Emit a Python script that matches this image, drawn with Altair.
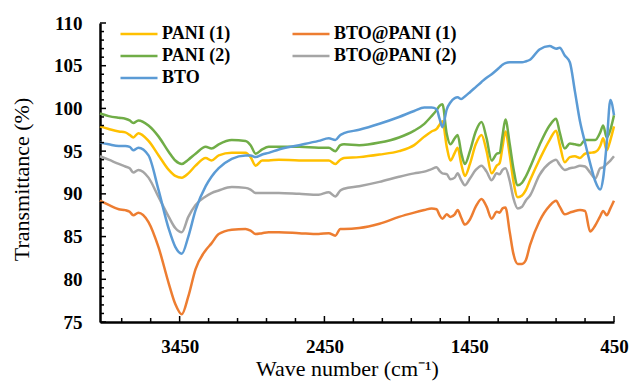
import altair as alt
import pandas as pd

# Wave numbers (cm-1), shared by all series
wn = [4000, 3940, 3870, 3825, 3795, 3770, 3735, 3665, 3595, 3525,
      3480, 3435, 3390, 3340, 3270, 3230, 3180, 3090, 2995, 2960,
      2925, 2880, 2835, 2765, 2625, 2490, 2420, 2375, 2340, 2315,
      2210, 2070, 1935, 1830, 1760, 1710, 1675, 1655, 1635, 1605,
      1580, 1550, 1530, 1505, 1480, 1445, 1405, 1365, 1330, 1295,
      1260, 1240, 1220, 1200, 1170, 1145, 1115, 1085, 1060, 1030,
      965, 895, 850, 825, 790, 755, 720, 685, 650, 615,
      580, 545, 525, 500, 475, 450]

pani1 = [97.9, 97.6, 97.3, 97.2, 96.9, 96.6, 97.1, 96.2, 94.5, 92.8,
         92.1, 91.9, 92.4, 93.3, 94.2, 93.9, 94.5, 94.8, 94.8, 94.3,
         93.3, 93.9, 93.9, 94.0, 93.9, 93.9, 93.9, 93.5, 94.0, 94.2,
         94.3, 94.6, 95.0, 95.7, 96.7, 97.3, 97.6, 98.1, 98.5, 95.5,
         93.9, 94.8, 95.4, 93.5, 92.1, 93.5, 95.8, 96.9, 95.0, 92.4,
         93.3, 93.6, 95.5, 97.3, 94.5, 91.5, 89.6, 89.8, 90.4, 91.6,
         94.0, 96.3, 97.4, 95.8, 93.7, 94.3, 94.4, 94.2, 94.7, 94.8,
         94.9, 95.6, 96.5, 95.1, 96.3, 97.9]

bto_pani1 = [89.2, 88.7, 88.2, 88.1, 87.9, 87.5, 87.8, 86.7, 83.7, 79.5,
             77.1, 75.9, 78.0, 81.2, 83.4, 84.2, 85.3, 85.8, 85.9, 85.7,
             85.3, 85.4, 85.5, 85.5, 85.4, 85.3, 85.4, 85.1, 85.9, 85.9,
             86.0, 86.5, 87.3, 87.8, 88.1, 88.3, 88.2, 87.5, 87.1, 87.6,
             87.3, 87.6, 88.1, 87.2, 86.4, 87.0, 88.5, 89.4, 88.5, 87.1,
             87.9, 87.8, 88.3, 88.4, 85.5, 83.0, 81.8, 81.8, 82.2, 84.0,
             86.8, 88.6, 89.2, 88.5, 87.6, 87.8, 88.0, 88.1, 88.0, 85.6,
             86.3, 87.4, 88.0, 87.5, 88.3, 89.2]

pani2 = [99.4, 99.1, 98.9, 98.8, 98.6, 98.3, 98.6, 98.0, 96.7, 94.9,
         93.9, 93.5, 94.0, 94.7, 95.5, 95.3, 95.8, 96.3, 96.2, 95.7,
         94.7, 95.2, 95.5, 95.5, 95.5, 95.4, 95.4, 95.0, 95.7, 95.8,
         95.7, 96.0, 96.6, 97.4, 98.2, 99.1, 99.8, 100.3, 100.5, 97.0,
         95.8, 96.5, 96.9, 94.8, 93.5, 95.0, 97.3, 98.4, 96.5, 93.9,
         94.7, 94.8, 96.8, 98.7, 95.8, 93.0, 91.0, 91.3, 92.0, 93.1,
         95.7, 98.0, 98.8, 97.2, 95.3, 95.9, 95.8, 95.7, 96.3, 96.3,
         96.3, 97.2, 98.0, 96.6, 97.5, 99.2]

bto_pani2 = [94.4, 94.0, 93.5, 93.2, 93.0, 92.5, 92.8, 91.9, 89.6, 87.3,
             86.0, 85.5, 87.3, 88.7, 89.7, 90.1, 90.4, 90.8, 90.7, 90.5,
             90.1, 90.1, 90.1, 90.1, 90.0, 89.9, 90.2, 89.7, 90.4, 90.6,
             90.9, 91.4, 92.0, 92.4, 92.6, 92.9, 93.1, 92.7, 92.4, 92.3,
             91.7, 91.9, 92.4, 91.6, 91.0, 91.8, 92.8, 93.3, 92.6, 91.6,
             92.4, 92.3, 92.8, 93.0, 91.5, 89.5, 88.3, 88.5, 89.2, 89.8,
             92.2, 93.6, 94.0, 93.4, 92.8, 93.0, 93.1, 93.3, 93.2, 92.5,
             91.8, 93.0, 93.1, 93.5, 93.9, 94.4]

bto = [96.0, 95.8, 95.6, 95.6, 95.5, 95.1, 95.4, 94.5, 90.4, 85.9,
       83.8, 83.0, 85.0, 88.1, 90.9, 92.0, 93.0, 94.1, 94.5, 94.5,
       94.3, 94.6, 94.8, 95.2, 95.7, 96.2, 96.5, 96.3, 96.9, 97.1,
       97.5, 98.2, 99.0, 99.7, 100.1, 100.1, 99.9, 98.8, 97.8, 99.9,
       100.7, 101.2, 101.3, 101.1, 101.4, 101.9, 102.5, 103.1, 103.6, 104.0,
       104.5, 104.8, 105.1, 105.3, 105.4, 105.4, 105.4, 105.4, 105.5, 105.7,
       106.9, 107.3, 107.0, 107.1, 106.2, 105.4, 102.0, 98.5, 96.0, 93.6,
       91.5, 90.5, 91.8, 96.0, 101.0, 99.2]

names = ["PANI (1)", "BTO@PANI (1)", "PANI (2)", "BTO@PANI (2)", "BTO"]
colors = ["#FFC000", "#ED7D31", "#70AD47", "#A5A5A5", "#5B9BD5"]
series = [pani1, bto_pani1, pani2, bto_pani2, bto]

x_major = [450, 1450, 2450, 3450]
x_minor = [v for v in range(450, 4000, 200) if v not in x_major]
y_major = [75, 80, 85, 90, 95, 100, 105, 110]
y_minor = [v for v in range(75, 111) if v not in y_major]

rows = []
for i, (n, s) in enumerate(zip(names, series)):
    for w, t in zip(wn, s):
        rows.append({"wn": w, "T": t, "series": n})
df = pd.DataFrame(rows)

W, H = 514, 299
SERIF = "Liberation Serif"

xscale = alt.Scale(domain=[450, 4000], reverse=True, nice=False, zero=False)
yscale = alt.Scale(domain=[75, 110], nice=False, zero=False)

xaxis = alt.Axis(values=x_major, format="d", ticks=False, tickSize=0, grid=False,
                 domainColor="black", domainWidth=2.5,
                 labelFont=SERIF, labelFontSize=19, labelFontWeight="bold",
                 labelColor="black", labelPadding=15, labelFlush=False,
                 title="Wave number (cm⁻¹)", titleFont=SERIF, titleFontSize=22,
                 titleFontWeight="normal", titleColor="black",
                 titleX=247, titleY=53, titleAlign="center",
                 titleBaseline="alphabetic")
yaxis = alt.Axis(values=y_major, format="d", ticks=False, tickSize=0, grid=False,
                 domainColor="black", domainWidth=2.5,
                 labelFont=SERIF, labelFontSize=19, labelFontWeight="bold",
                 labelColor="black", labelPadding=18, labelFlush=False,
                 title="Transmittance (%)", titleFont=SERIF, titleFontSize=22,
                 titleFontWeight="normal", titleColor="black",
                 titleX=-79, titleY=156, titleAlign="center",
                 titleBaseline="middle", titleAngle=270)

lines = alt.Chart(df).mark_line(strokeWidth=2.5, interpolate="monotone").encode(
    x=alt.X("wn:Q", scale=xscale, axis=xaxis),
    y=alt.Y("T:Q", scale=yscale, axis=yaxis),
    color=alt.Color("series:N", sort=names,
                    scale=alt.Scale(domain=names, range=colors),
                    legend=alt.Legend(orient="none", legendX=19, legendY=1, columns=2,
                                      direction="horizontal",
                                      title=None, symbolType="stroke", symbolSize=1369,
                                      symbolStrokeWidth=2.5, labelFont=SERIF,
                                      labelFontSize=18, labelFontWeight="bold",
                                      labelColor="black", labelOffset=3,
                                      columnPadding=60, rowPadding=2, clipHeight=20,
                                      padding=0, labelLimit=400)),
    order=alt.Order("wn:Q"),
)

ytick_major = alt.Chart(pd.DataFrame({"T": y_major})).mark_rule(color="black", strokeWidth=1.5).encode(
    y=alt.Y("T:Q", scale=yscale, axis=yaxis), x=alt.value(0), x2=alt.value(6))
ytick_minor = alt.Chart(pd.DataFrame({"T": y_minor})).mark_rule(color="black", strokeWidth=1.5).encode(
    y=alt.Y("T:Q", scale=yscale, axis=yaxis), x=alt.value(0), x2=alt.value(4))
xtick_major = alt.Chart(pd.DataFrame({"wn": x_major})).mark_rule(color="black", strokeWidth=1.5).encode(
    x=alt.X("wn:Q", scale=xscale, axis=xaxis), y=alt.value(H), y2=alt.value(H - 6))
xtick_minor = alt.Chart(pd.DataFrame({"wn": x_minor})).mark_rule(color="black", strokeWidth=1.5).encode(
    x=alt.X("wn:Q", scale=xscale, axis=xaxis), y=alt.value(H), y2=alt.value(H - 4))

chart = alt.layer(lines, ytick_major, ytick_minor, xtick_major, xtick_minor).properties(
    width=W, height=H, autosize="none",
    padding={"left": 100, "top": 23, "right": 16, "bottom": 59},
    background="white",
).configure_view(stroke=None)

chart.save("out.html", embed_options={"renderer": "svg", "actions": False})
